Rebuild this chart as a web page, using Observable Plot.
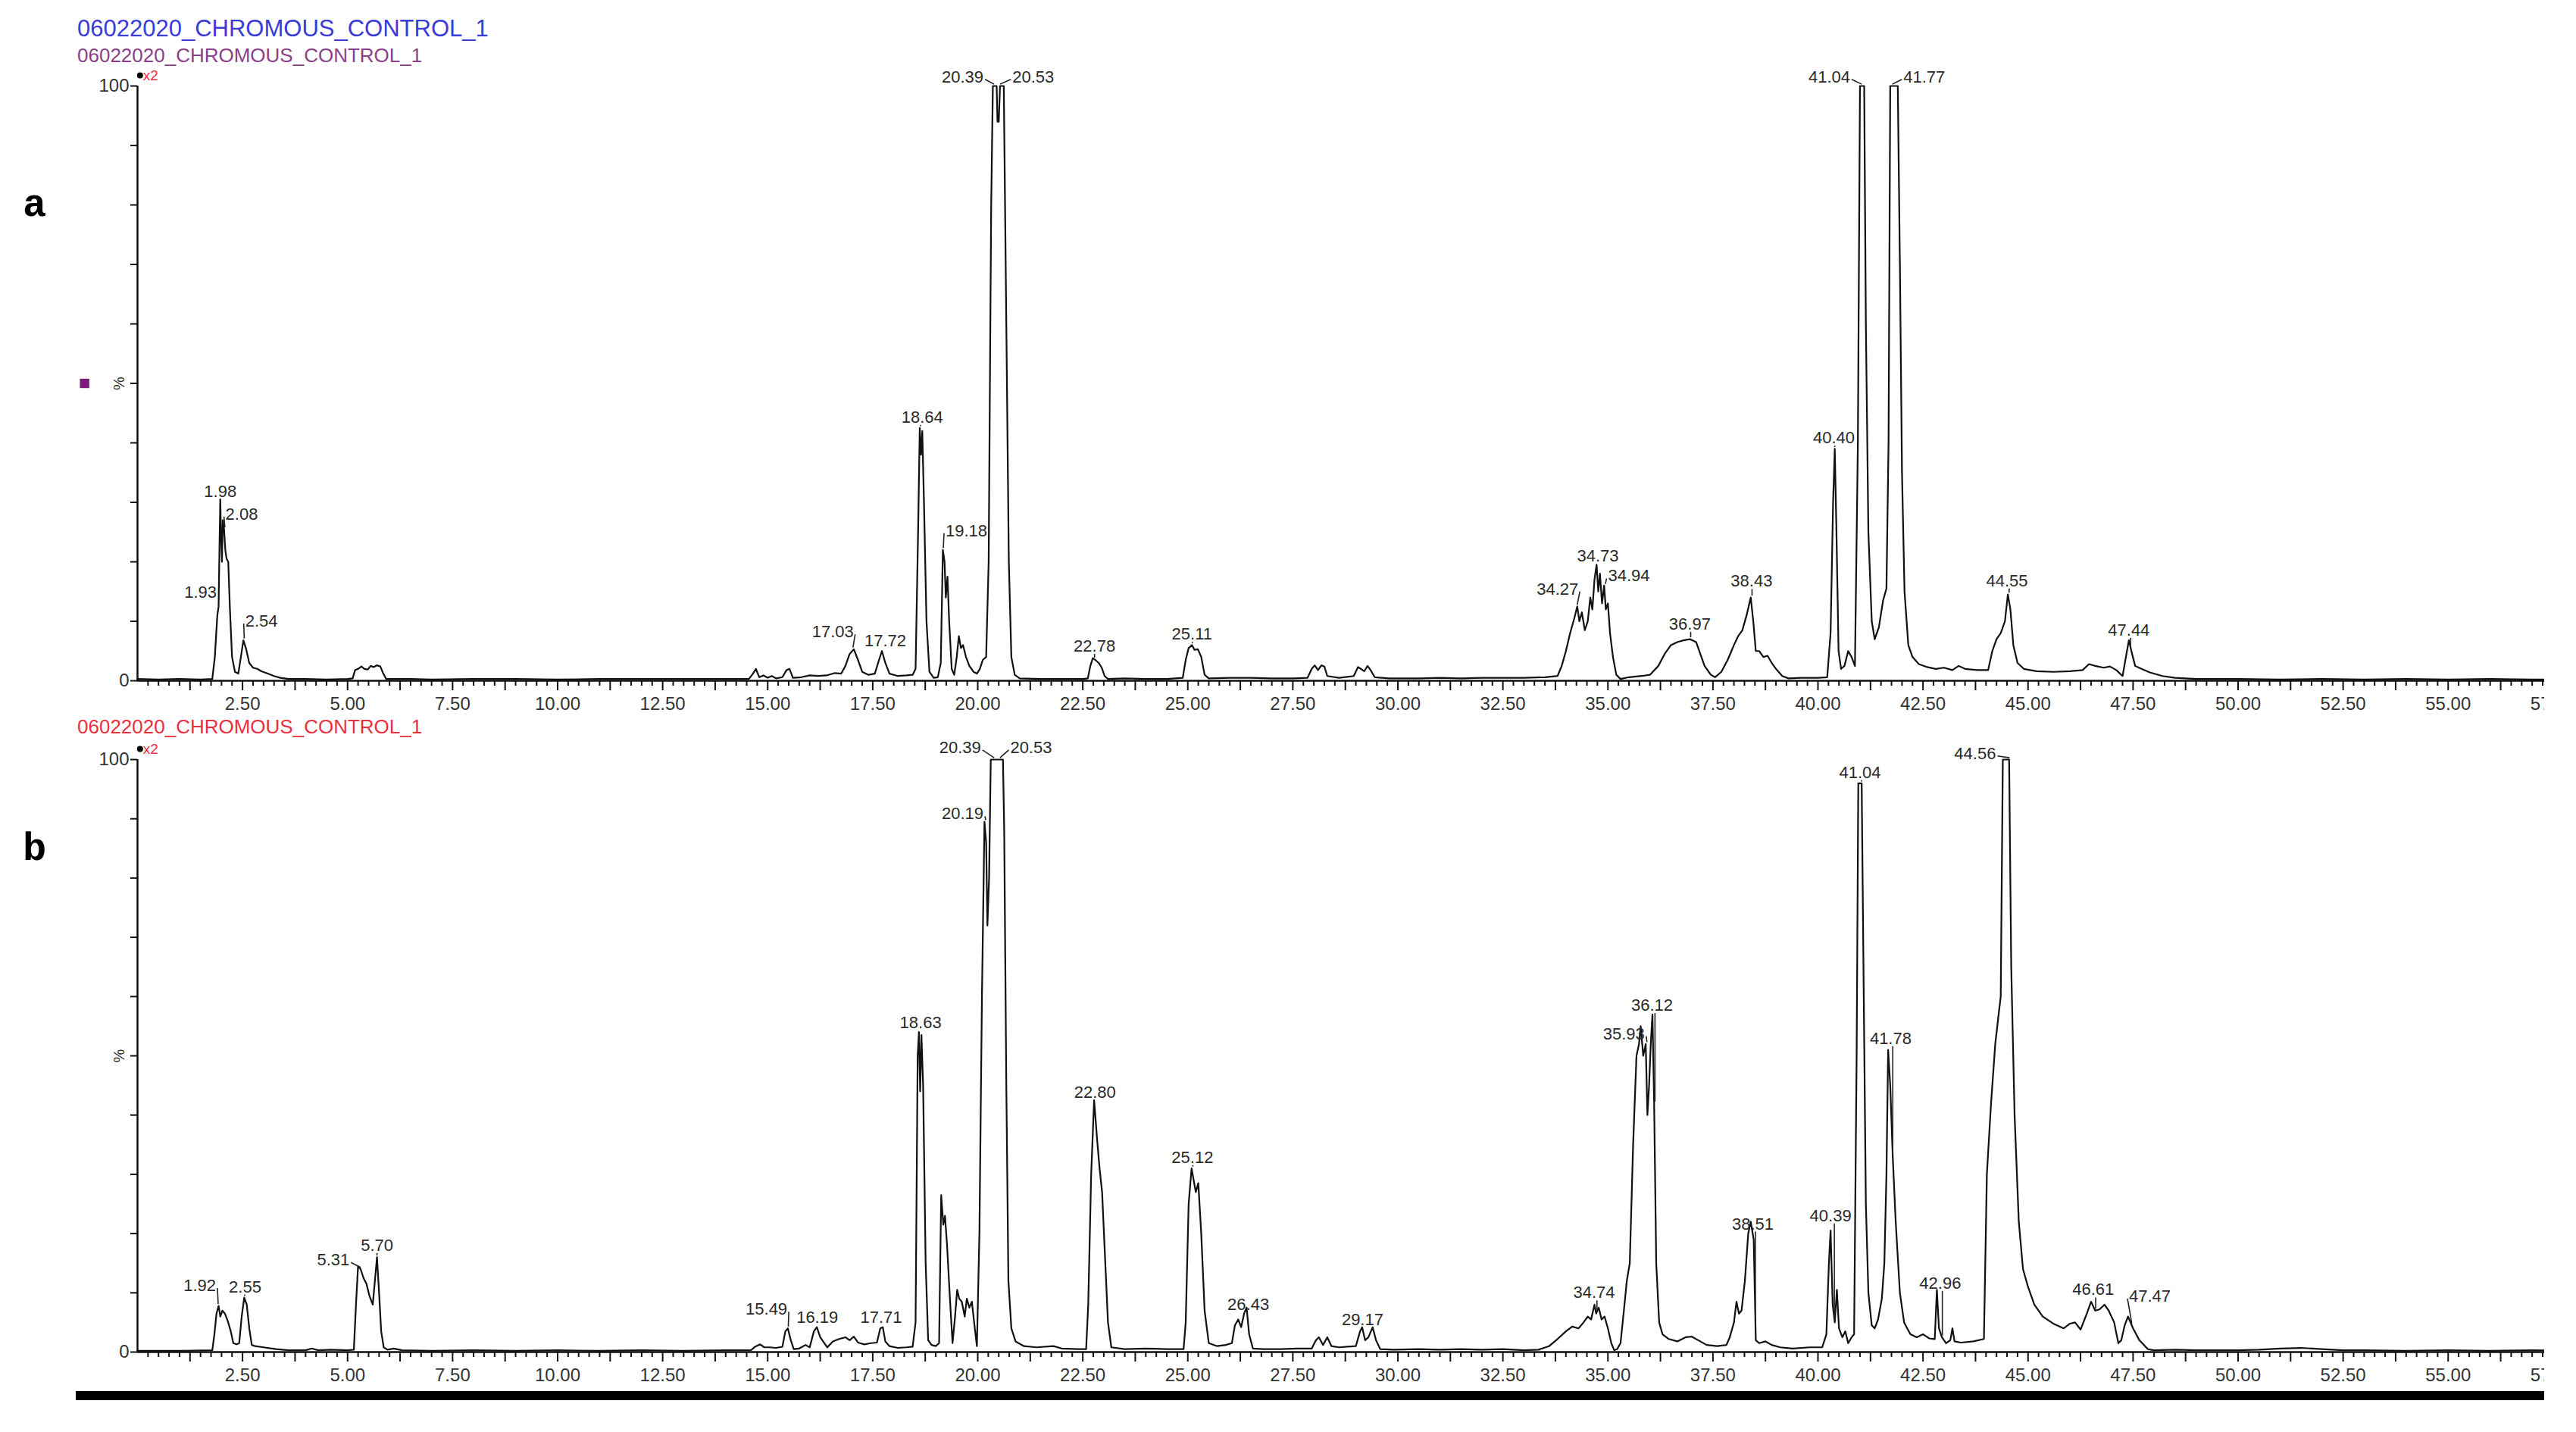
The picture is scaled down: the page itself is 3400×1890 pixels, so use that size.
<!DOCTYPE html>
<html>
<head>
<meta charset="utf-8">
<script src="https://cdn.jsdelivr.net/npm/d3@7"></script>
<script src="https://cdn.jsdelivr.net/npm/@observablehq/plot@0.6"></script>
<style>
  html, body { margin: 0; padding: 0; background: #fff; }
  #page { position: relative; width: 3358px; height: 1890px; overflow: hidden; background: #fff; font-family: "Liberation Sans", Arial, sans-serif; }
  .ttl { position: absolute; left: 102px; white-space: nowrap; line-height: 1; }
  .pl { position: absolute; font-family: "Liberation Mono", "DejaVu Sans Mono", monospace; font-weight: bold; font-size: 52px; line-height: 1; color: #000; }
  .panel { position: absolute; left: 0; width: 3400px; }
  .panel svg { max-width: none !important; width: 3400px; display: block; }
  #bar { position: absolute; left: 100px; top: 1836px; width: 3300px; height: 12px; background: #000; }
</style>
</head>
<body>
<div id="page">
  <div id="pa" class="panel" style="top:0px"></div>
  <div id="pb" class="panel" style="top:948px"></div>
  <div class="ttl" style="top:22px; font-size:31px; color:#3b3bd8;">06022020_CHROMOUS_CONTROL_1</div>
  <div class="ttl" style="top:60px; font-size:26px; color:#8a3f88;">06022020_CHROMOUS_CONTROL_1</div>
  <div class="ttl" style="top:946px; font-size:26px; color:#e8303f;">06022020_CHROMOUS_CONTROL_1</div>
  <div class="pl" style="left:30px; top:246px;">a</div>
  <div class="pl" style="left:30px; top:1096px;">b</div>
  <div id="bar"></div>
</div>
<script>
// ---------------- data (retention time in min, relative intensity in %) ----------------
const majorTicks = [2.5, 5, 7.5, 10, 12.5, 15, 17.5, 20, 22.5, 25, 27.5, 30, 32.5, 35, 37.5, 40, 42.5, 45, 47.5, 50, 52.5, 55, 57.5];
const yTickLabels = [0, 100];

const aTrace = [
  [0,0.3],[0.5,0.2],[1.0,0.3],[1.5,0.2],[1.78,0.3],[1.84,4],[1.90,11],[1.93,12.5],[1.95,22],[1.97,30.5],
  [1.99,24],[2.01,20],[2.03,27],[2.06,25.5],[2.09,22],[2.12,20.5],[2.16,20],[2.20,12],[2.25,4],[2.32,1.5],
  [2.40,1.2],[2.46,4],[2.52,6.8],[2.58,5.5],[2.66,3],[2.75,2.2],[2.85,2.0],[2.95,1.6],[3.10,1.2],[3.25,0.8],
  [3.40,0.5],[3.6,0.3],[4.0,0.3],[4.5,0.2],[5.0,0.3],[5.12,0.4],[5.18,1.8],[5.25,2.0],[5.33,2.4],[5.40,2.0],
  [5.48,1.9],[5.55,2.5],[5.62,2.3],[5.70,2.6],[5.78,2.4],[5.85,1.2],[5.92,0.3],[6.5,0.3],[7.0,0.2],[8.0,0.3],
  [9.0,0.3],[10.0,0.2],[11.0,0.3],[12.0,0.3],[13.0,0.3],[14.0,0.3],[14.55,0.3],[14.65,1.2],[14.72,2.0],[14.80,0.6],
  [14.90,0.9],[15.0,0.5],[15.1,0.8],[15.2,0.4],[15.35,0.6],[15.45,1.8],[15.52,2.0],[15.60,0.5],[15.8,0.6],[16.0,0.9],
  [16.2,0.8],[16.4,0.9],[16.6,1.3],[16.75,1.2],[16.85,2.5],[16.95,4.5],[17.05,5.3],[17.15,3.5],[17.25,1.5],[17.4,1.0],
  [17.55,1.2],[17.65,3.5],[17.72,5.0],[17.8,3.0],[17.9,1.2],[18.1,0.8],[18.3,0.9],[18.45,1.0],[18.52,2.0],[18.58,25],
  [18.62,42.5],[18.65,38],[18.68,42],[18.72,30],[18.78,10],[18.85,1.5],[18.95,0.5],[19.05,0.6],[19.12,3],[19.17,22],
  [19.21,20],[19.24,14],[19.28,17.5],[19.32,10],[19.38,2],[19.44,1.0],[19.50,4],[19.55,7.5],[19.60,5.5],[19.65,6],
  [19.72,4],[19.80,2.5],[19.90,1.5],[19.98,1.2],[20.05,2.0],[20.12,3.5],[20.20,4.0],[20.26,20],[20.32,80],[20.36,100],
  [20.45,100],[20.47,94],[20.50,94],[20.53,100],[20.62,100],[20.68,60],[20.74,20],[20.80,4],[20.88,1],[21.0,0.4],
  [21.5,0.3],[22.0,0.3],[22.5,0.3],[22.62,0.4],[22.68,2.5],[22.74,3.8],[22.80,3.5],[22.88,3.0],[22.95,2.2],[23.02,0.8],
  [23.1,0.3],[23.5,0.4],[24.0,0.3],[24.5,0.3],[24.88,0.5],[24.95,3.5],[25.02,5.5],[25.10,6.0],[25.16,5.2],[25.24,5.3],
  [25.32,4.0],[25.40,1.0],[25.5,0.4],[26.0,0.5],[26.5,0.5],[27.0,0.4],[27.5,0.4],[27.85,0.5],[27.95,2.0],[28.02,2.6],
  [28.10,1.8],[28.18,2.6],[28.25,2.4],[28.32,0.8],[28.6,0.5],[28.95,0.8],[29.05,2.3],[29.12,2.0],[29.20,1.6],[29.28,2.5],
  [29.35,1.8],[29.45,0.6],[29.8,0.4],[30.5,0.4],[31.0,0.5],[31.5,0.4],[32.0,0.5],[32.5,0.5],[33.0,0.5],[33.5,0.6],
  [33.8,0.8],[33.9,2.5],[34.0,5],[34.1,8],[34.2,10.5],[34.27,12.5],[34.32,10],[34.38,11.5],[34.45,8.5],[34.52,10],
  [34.58,14],[34.63,12],[34.68,17],[34.73,19.5],[34.77,15],[34.81,18],[34.86,13],[34.91,16],[34.95,12],[35.00,13],
  [35.05,8],[35.12,4],[35.2,1],[35.3,0.3],[35.5,0.6],[35.8,0.8],[36.0,1.0],[36.2,2.5],[36.35,4.5],[36.5,6.0],
  [36.65,6.5],[36.8,6.8],[36.95,7.0],[37.1,6.5],[37.2,4.5],[37.3,2.5],[37.45,1.0],[37.55,0.6],[37.7,1.5],[37.85,3.5],
  [38.0,6],[38.1,7.5],[38.2,8.5],[38.3,11],[38.4,14],[38.46,10],[38.52,5],[38.6,5],[38.7,4],[38.8,4.2],
  [38.9,3],[39.0,2],[39.15,0.8],[39.3,0.4],[39.6,0.5],[40.0,0.5],[40.22,0.6],[40.30,8],[40.36,30],[40.40,39],
  [40.44,25],[40.49,5],[40.55,2],[40.63,2.5],[40.72,5.0],[40.80,4.0],[40.88,2.5],[40.95,40],[41.00,100],[41.10,100],
  [41.14,60],[41.20,25],[41.28,10],[41.35,7],[41.45,9],[41.55,13.5],[41.63,15.5],[41.68,40],[41.72,100],[41.90,100],
  [41.95,70],[42.0,35],[42.06,15],[42.15,6],[42.25,4],[42.4,2.8],[42.6,2.3],[42.8,2.0],[43.0,2.2],[43.2,1.8],
  [43.35,2.5],[43.5,2.0],[43.8,1.8],[44.05,1.8],[44.15,5],[44.25,7],[44.35,8],[44.45,10],[44.52,14.5],[44.58,12],
  [44.65,6],[44.75,3],[44.9,2],[45.2,1.6],[45.6,1.5],[46.0,1.6],[46.3,1.8],[46.45,2.8],[46.6,2.5],[46.8,2.2],
  [46.95,2.4],[47.1,1.8],[47.25,0.8],[47.33,4],[47.40,6.8],[47.46,5],[47.55,2.5],[47.7,2.0],[47.9,1.4],[48.2,0.8],
  [48.5,0.5],[49.0,0.3],[50.0,0.3],[51.0,0.2],[52.0,0.3],[53.0,0.2],[54.0,0.3],[55.0,0.2],[56.0,0.3],[57.0,0.2],[58.0,0.2]
];

const bTrace = [
  [0,0.2],[1.0,0.2],[1.78,0.3],[1.83,3],[1.88,6.5],[1.93,7.8],[1.97,6.0],[2.02,7.0],[2.08,6.5],[2.15,5.2],
  [2.22,3.5],[2.28,1.5],[2.36,1.3],[2.42,1.5],[2.48,6],[2.54,9.2],[2.60,8.0],[2.66,4],[2.72,1.2],[2.8,1.0],
  [3.0,0.8],[3.3,0.5],[3.6,0.3],[4.0,0.3],[4.15,0.6],[4.3,0.3],[4.6,0.4],[5.0,0.3],[5.15,0.4],[5.20,8],
  [5.25,14.5],[5.31,14.0],[5.38,12.5],[5.45,11.5],[5.52,9.5],[5.60,8],[5.65,12],[5.70,16],[5.75,10],[5.80,3.5],
  [5.86,0.8],[5.95,0.4],[6.1,0.6],[6.3,0.3],[7.0,0.2],[8.0,0.3],[9.0,0.2],[10.0,0.3],[11.0,0.2],[12.0,0.3],
  [13.0,0.2],[14.0,0.3],[14.6,0.3],[14.7,0.9],[14.82,1.3],[14.92,0.8],[15.05,0.8],[15.2,0.7],[15.35,0.9],[15.42,3.5],
  [15.48,4.0],[15.55,2.0],[15.62,0.5],[15.75,0.6],[15.9,1.2],[16.0,0.8],[16.1,3.5],[16.17,4.2],[16.25,2.5],[16.35,1.5],
  [16.42,0.8],[16.55,1.8],[16.7,2.2],[16.85,2.5],[16.95,2.0],[17.05,2.6],[17.15,1.6],[17.3,1.3],[17.45,1.5],[17.6,1.6],
  [17.68,4.0],[17.74,4.2],[17.8,1.8],[17.9,1.0],[18.1,0.7],[18.3,0.8],[18.45,0.9],[18.52,5],[18.57,50],[18.60,54],
  [18.63,44],[18.66,53.5],[18.70,45],[18.76,15],[18.82,2],[18.9,1.2],[19.0,1.0],[19.08,1.5],[19.13,26.5],[19.18,21.5],
  [19.22,23],[19.27,18],[19.33,10],[19.40,1.5],[19.46,6],[19.51,10.5],[19.56,9],[19.62,8.5],[19.69,6],[19.74,9],
  [19.80,7.5],[19.86,8.5],[19.93,4],[19.98,1.0],[20.04,20],[20.10,60],[20.16,89.5],[20.20,86],[20.23,72],[20.27,80],
  [20.31,100],[20.60,100],[20.63,88],[20.68,45],[20.73,12],[20.80,4],[20.9,1.8],[21.1,1.0],[21.4,0.8],[21.8,1.0],
  [22.0,0.6],[22.4,0.5],[22.58,0.5],[22.63,8],[22.70,30],[22.77,42.5],[22.84,36],[22.90,31],[22.96,27],[23.03,16],
  [23.10,5],[23.18,0.8],[23.5,0.5],[24.0,0.6],[24.5,0.5],[24.9,0.5],[24.95,5],[25.02,25],[25.09,31],[25.14,29],
  [25.19,27],[25.25,28.5],[25.32,20],[25.40,7],[25.50,1.5],[25.7,1.0],[25.9,1.2],[26.05,1.5],[26.12,4.5],[26.20,5.5],
  [26.27,4.2],[26.34,6.5],[26.40,7.5],[26.46,3],[26.55,0.6],[26.8,0.5],[27.2,0.5],[27.6,0.6],[27.95,0.6],[28.05,2.0],
  [28.12,2.5],[28.22,1.2],[28.32,2.5],[28.42,1.0],[28.6,0.8],[28.8,0.9],[29.0,1.0],[29.1,3.5],[29.15,4.2],[29.22,2.0],
  [29.30,2.5],[29.40,4.2],[29.48,2.0],[29.58,0.5],[29.9,0.4],[30.5,0.5],[31.0,0.4],[31.5,0.5],[32.0,0.4],[32.5,0.5],
  [33.0,0.3],[33.35,0.4],[33.6,1.0],[33.8,2.2],[34.0,3.5],[34.15,4.3],[34.3,4.0],[34.42,5],[34.52,6],[34.6,5.5],
  [34.68,8],[34.72,6.5],[34.78,7.5],[34.85,5.5],[34.92,6],[35.0,4],[35.08,1.5],[35.15,0.3],[35.22,0.5],[35.3,1.5],
  [35.38,7],[35.45,12],[35.52,15],[35.6,35],[35.68,50],[35.74,52],[35.78,55],[35.84,50],[35.90,52],[35.94,40],
  [35.98,45],[36.02,52],[36.06,57],[36.10,42],[36.15,15],[36.22,5],[36.3,3],[36.45,2.2],[36.65,1.8],[36.85,2.5],
  [37.0,2.6],[37.15,2.0],[37.35,1.2],[37.6,1.0],[37.82,1.2],[37.9,2.5],[38.0,5],[38.06,8.5],[38.12,6.5],[38.18,7],
  [38.26,12],[38.34,20],[38.40,22],[38.47,19],[38.52,2],[38.6,1.5],[38.75,1.8],[38.9,1.2],[39.1,0.8],[39.4,0.6],
  [39.8,0.8],[40.1,0.8],[40.2,3],[40.26,15],[40.30,20.5],[40.35,8],[40.40,5],[40.45,10.5],[40.50,4],[40.58,2.5],
  [40.65,3.5],[40.72,1.5],[40.80,2.5],[40.86,3],[40.92,50],[40.96,96],[41.04,96],[41.09,60],[41.14,25],[41.20,10],
  [41.28,4.5],[41.35,4],[41.43,5.5],[41.52,9],[41.58,15],[41.63,30],[41.67,51],[41.72,45],[41.78,33],[41.85,22],
  [41.95,10],[42.05,5],[42.2,3],[42.35,2.5],[42.5,3.0],[42.65,2.3],[42.78,2.2],[42.83,10.5],[42.88,4],[42.95,2.5],
  [43.05,1.5],[43.15,2],[43.2,4],[43.25,1.8],[43.4,1.6],[43.7,1.8],[43.95,2.2],[44.02,30],[44.12,42],[44.22,52],
  [44.3,57],[44.35,60],[44.40,100],[44.55,100],[44.60,65],[44.68,40],[44.78,22],[44.88,14],[45.0,11],[45.15,8],
  [45.35,6],[45.6,4.8],[45.85,4],[46.0,4.8],[46.12,5],[46.25,3.8],[46.4,6.5],[46.5,8.5],[46.6,7],[46.7,7.2],
  [46.82,8],[46.92,7],[47.05,5],[47.15,1.5],[47.22,2],[47.3,4.5],[47.38,6],[47.5,4],[47.65,2],[47.85,0.5],
  [48.0,0.3],[48.5,0.4],[49.0,0.3],[50.0,0.3],[50.5,0.4],[51.0,0.6],[51.5,0.7],[52.0,0.5],[52.5,0.3],[53.0,0.3],
  [54.0,0.2],[55.0,0.3],[56.0,0.2],[57.0,0.3],[58.0,0.2]
];

// peak label text, label centre (time), label centre (%)
const aPeaks = [
  ["1.93",1.5,14.9],["1.98",1.97,31.8],["2.08",2.48,28],["2.54",2.95,10],["17.03",16.55,8.2],["17.72",17.8,6.7],
  ["18.64",18.68,44.3],["19.18",19.73,25.2],["20.39",19.64,101.5],["20.53",21.32,101.5],["22.78",22.78,5.8],
  ["25.11",25.1,7.8],["34.27",33.8,15.4],["34.73",34.76,21],["34.94",35.5,17.6],["36.97",36.95,9.5],
  ["38.43",38.42,16.7],["40.40",40.38,40.8],["41.04",40.27,101.5],["41.77",42.53,101.5],["44.55",44.5,16.8],
  ["47.44",47.4,8.5]
];
const bPeaks = [
  ["1.92",1.48,11.2],["2.55",2.56,11.0],["5.31",4.66,15.5],["5.70",5.7,18],["15.49",14.97,7.2],["16.19",16.18,5.8],
  ["17.71",17.7,5.8],["18.63",18.64,55.6],["20.19",19.64,90.8],["20.39",19.58,102],["20.53",21.27,102],
  ["22.80",22.79,43.8],["25.12",25.11,32.8],["26.43",26.44,8],["29.17",29.16,5.4],["34.74",34.67,10],
  ["35.93",35.38,53.7],["36.12",36.05,58.5],["38.51",38.45,21.6],["40.39",40.3,23],["41.04",41.0,97.8],
  ["41.78",41.73,52.9],["42.96",42.91,11.6],["44.56",43.74,101],["46.61",46.55,10.5],["47.47",47.9,9.4]
];

// ---------------- layout ----------------
const W = 3400, ML = 181, MB = 50, PXU = 55.45;
const XMAX = (W - ML) / PXU;
const TXT = "#2a2a2a";
const FONT = "Liberation Sans, Arial, sans-serif";

function valueAt(trace, t) {
  let best = 0;
  for (let i = 0; i < trace.length - 1; i++) {
    const [t0, v0] = trace[i], [t1, v1] = trace[i + 1];
    if (t >= t0 && t <= t1) best = Math.max(best, v0 + (v1 - v0) * (t - t0) / (t1 - t0));
    if (Math.abs(t0 - t) <= 0.035) best = Math.max(best, v0);
  }
  return Math.min(best, 100);
}

function panel({trace, peaks, height, marginTop, square}) {
  const ppp = (height - marginTop - MB) / 100; // px per %
  const data = trace.map(([t, v]) => ({t, v}));
  const fs = 22;
  const labels = peaks.map(([s, lt, lp]) => {
    const pt = +s, pv = valueAt(trace, pt);
    const hw = fs * (0.556 * (s.length - 1) + 0.278) / 2;
    const dxPx = (lt - pt) * PXU;
    let x1 = pt, y1 = pv + 0.3, x2, y2;
    if (Math.abs(dxPx) < hw * 0.6) { x2 = pt; y2 = lp - 10 / ppp; }
    else if (dxPx < 0) { x2 = lt + (hw + 2) / PXU; y2 = lp - 3 / ppp; }
    else { x2 = lt - (hw + 2) / PXU; y2 = lp - 3 / ppp; }
    return {s, lt, lp, x1, y1, x2, y2};
  });
  const leaders = labels.filter(d => (d.y2 - d.y1) * ppp > 1.5 || Math.abs(d.x2 - d.x1) * PXU > 3);
  const allTicks = d3.range(0, XMAX, 0.25);
  const isMid = t => Math.abs(t / 1.25 - Math.round(t / 1.25)) < 1e-6;
  const minor = allTicks.filter(t => !isMid(t));
  const mid = allTicks.filter(t => isMid(t) && t > 0);
  const marks = [
    Plot.ruleX(minor, {x: d => d, y1: 0, y2: -7 / ppp, stroke: "#111", strokeWidth: 2}),
    Plot.ruleX(mid, {x: d => d, y1: 0, y2: -13 / ppp, stroke: "#111", strokeWidth: 2}),
    Plot.ruleY(d3.range(0, 101, 10), {y: d => d, x1: 0, x2: -9 / PXU, stroke: "#111", strokeWidth: 2}),
    Plot.ruleY([0], {stroke: "#111", strokeWidth: 2.5}),
    Plot.ruleX([0], {y1: 0, y2: 100, stroke: "#111", strokeWidth: 2.5}),
    Plot.text(majorTicks, {x: d => d, y: 0, text: d => d.toFixed(2), dy: 31, fontSize: 24, fill: "#333", fontFamily: FONT}),
    Plot.text(yTickLabels, {x: 0, y: d => d, text: d => String(d), dx: -11, textAnchor: "end", fontSize: 24, fill: "#333", fontFamily: FONT}),
    Plot.text(["%"], {x: 0, y: 50, dx: -24, rotate: -90, fontSize: 20, fill: "#333", fontFamily: FONT}),
    Plot.line(data, {x: "t", y: "v", stroke: "#111", strokeWidth: 2.2, strokeLinejoin: "round"}),
    Plot.link(leaders, {x1: "x1", y1: "y1", x2: "x2", y2: "y2", stroke: "#222", strokeWidth: 1.6}),
    Plot.text(labels, {x: "lt", y: "lp", text: "s", fontSize: fs, fill: TXT, lineAnchor: "middle", fontFamily: FONT}),
    Plot.dot([0], {x: 0.06, y: 100 + 14 / ppp, r: 4, fill: "#000", stroke: null}),
    Plot.text(["x2"], {x: 0.13, y: 100 + 14 / ppp, text: d => d, textAnchor: "start", lineAnchor: "middle", fontSize: 19, fill: "#e8303f", fontFamily: FONT})
  ];
  if (square) marks.push(Plot.dot([0], {x: -1.26, y: 50, symbol: "square", r: 7, fill: "#7a1c7a", stroke: null}));
  return Plot.plot({
    width: W, height, marginLeft: ML, marginRight: 0, marginTop, marginBottom: MB,
    x: {domain: [0, XMAX], axis: null},
    y: {domain: [0, 100], axis: null},
    style: {background: "transparent", overflow: "visible", fontFamily: FONT, maxWidth: "none"},
    marks
  });
}

document.getElementById("pa").appendChild(panel({trace: aTrace, peaks: aPeaks, height: 948, marginTop: 113, square: true}));
document.getElementById("pb").appendChild(panel({trace: bTrace, peaks: bPeaks, height: 886, marginTop: 54, square: false}));
</script>
</body>
</html>
